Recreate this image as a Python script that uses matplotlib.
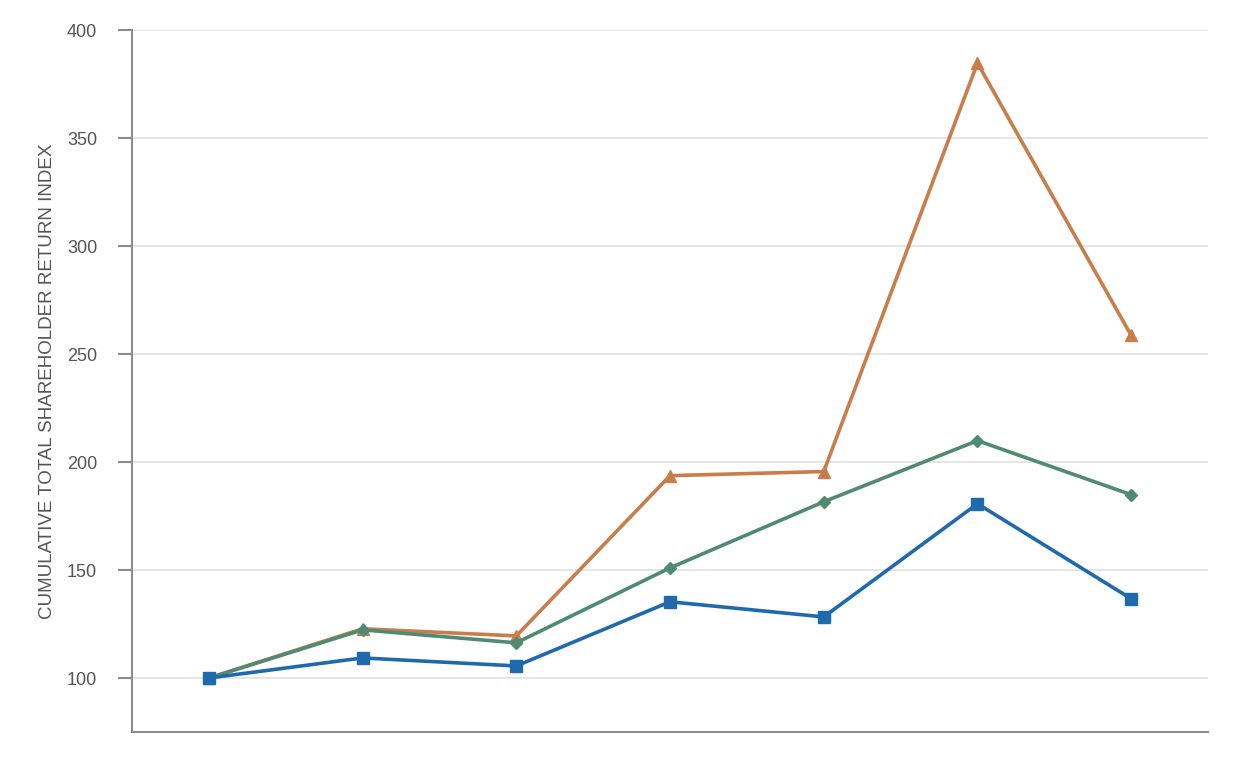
import matplotlib
matplotlib.use("Agg")
import matplotlib.pyplot as plt

plt.rcParams['font.family'] = ['Liberation Sans', 'DejaVu Sans']

periods = [0, 1, 2, 3, 4, 5, 6]
company = [100, 109.3, 105.6, 135.3, 128.3, 180.7, 136.7]
index_a = [100, 122.3, 116.3, 151.0, 181.6, 209.9, 184.9]
index_b = [100, 122.8, 119.5, 193.7, 195.6, 384.7, 258.6]
yticks = [100, 150, 200, 250, 300, 350, 400]

fig = plt.figure(figsize=(12.38, 7.6), dpi=100)
ax = fig.add_axes([0.1066, 0.0368, 0.8692, 0.9237])

ax.plot(periods, index_b, color='#c87d4a', lw=2.6, marker='^', ms=8, zorder=3)
ax.plot(periods, index_a, color='#4f8a72', lw=2.6, marker='D', ms=6, zorder=4)
ax.plot(periods, company, color='#1f6aad', lw=2.6, marker='s', ms=8.5, zorder=5)

ax.set_xlim(-0.5, 6.5)
ax.set_ylim(75, 400)
ax.set_yticks(yticks)
ax.set_xticks([])
ax.grid(axis='y', color='#e3e3e3', lw=1.3)
ax.set_axisbelow(True)
for s in ['top', 'right']:
    ax.spines[s].set_visible(False)
for s in ['left', 'bottom']:
    ax.spines[s].set_color('#8c8c8c')
    ax.spines[s].set_linewidth(1.5)
ax.tick_params(axis='y', length=10, width=1.5, color='#8c8c8c', labelcolor='#555555', labelsize=13, pad=15)
ax.set_ylabel('CUMULATIVE TOTAL SHAREHOLDER RETURN INDEX', color='#555555', fontsize=13.5, labelpad=8)

fig.savefig('out.png', dpi=100)
